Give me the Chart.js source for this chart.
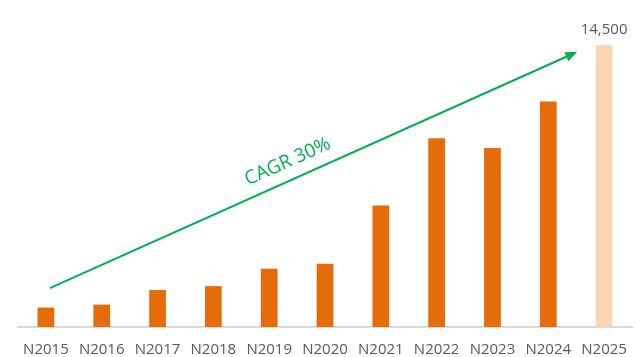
<!DOCTYPE html>
<html>
<head>
<meta charset="utf-8">
<script src="https://cdn.jsdelivr.net/npm/chart.js@4"></script>
<style>
  html, body { margin: 0; padding: 0; background: #fff; }
  #wrap { width: 635px; height: 357px; }
</style>
</head>
<body>
<div id="wrap"><canvas id="chart"></canvas></div>
<script>
// Data
const years = ['N2015', 'N2016', 'N2017', 'N2018', 'N2019', 'N2020', 'N2021', 'N2022', 'N2023', 'N2024', 'N2025'];
const values = [1000, 1150, 1900, 2100, 3000, 3250, 6250, 9700, 9200, 11600, 14500];
const barColors = ['#E46C0A', '#E46C0A', '#E46C0A', '#E46C0A', '#E46C0A', '#E46C0A', '#E46C0A', '#E46C0A', '#E46C0A', '#E46C0A', '#FCD5B5'];
const topLabel = '14,500';
const cagrText = 'CAGR 30%';
// arrow ends, in category index / value units
const arrowFrom = { x: 0.07, y: 2000 };
const arrowTo = { x: 9.52, y: 14150 };

// Label over the last bar + CAGR arrow
const overlay = {
    id: 'overlay',
    afterDatasetsDraw(chart) {
        const ctx = chart.ctx;
        const xs = chart.scales.x, ys = chart.scales.y;

        const bar = chart.getDatasetMeta(0).data[values.length - 1];
        ctx.save();
        ctx.font = '15px "Open Sans"';
        ctx.fillStyle = '#595959';
        ctx.textAlign = 'center';
        ctx.textBaseline = 'bottom';
        ctx.fillText(topLabel, bar.x, bar.y - 8);

        const x1 = xs.getPixelForValue(arrowFrom.x), y1 = ys.getPixelForValue(arrowFrom.y);
        const x2 = xs.getPixelForValue(arrowTo.x), y2 = ys.getPixelForValue(arrowTo.y);
        const ang = Math.atan2(y2 - y1, x2 - x1);
        const head = 12;

        ctx.strokeStyle = '#00B050';
        ctx.fillStyle = '#00B050';
        ctx.lineWidth = 2;
        ctx.beginPath();
        ctx.moveTo(x1, y1);
        ctx.lineTo(x2 - head * 0.8 * Math.cos(ang), y2 - head * 0.8 * Math.sin(ang));
        ctx.stroke();

        ctx.beginPath();
        ctx.moveTo(x2, y2);
        ctx.lineTo(x2 - head * Math.cos(ang) + 5 * Math.sin(ang), y2 - head * Math.sin(ang) - 5 * Math.cos(ang));
        ctx.lineTo(x2 - head * Math.cos(ang) - 5 * Math.sin(ang), y2 - head * Math.sin(ang) + 5 * Math.cos(ang));
        ctx.closePath();
        ctx.fill();

        // text sits above the line
        const t = 0.465;
        const mx = x1 + (x2 - x1) * t, my = y1 + (y2 - y1) * t;
        ctx.translate(mx + 18 * Math.sin(ang), my - 18 * Math.cos(ang));
        ctx.rotate(ang);
        ctx.font = '19px "Open Sans"';
        ctx.textBaseline = 'middle';
        ctx.fillText(cagrText, 0, 0);
        ctx.restore();
    }
};

new Chart(document.getElementById('chart'), {
    type: 'bar',
    data: {
        labels: years,
        datasets: [{
            data: values,
            backgroundColor: barColors,
            categoryPercentage: 1,
            barPercentage: 0.3
        }]
    },
    options: {
        responsive: true,
        maintainAspectRatio: false,
        animation: false,
        layout: { padding: { top: 45, left: 18, right: 3, bottom: 0 } },
        plugins: {
            legend: { display: false },
            tooltip: { enabled: false }
        },
        scales: {
            x: {
                grid: { display: false, drawTicks: false },
                border: { display: true, color: '#D9D9D9', width: 2 },
                ticks: {
                    color: '#595959',
                    padding: 14,
                    maxRotation: 0,
                    autoSkip: false,
                    font: { family: '"Open Sans"', size: 15 }
                },
                afterFit(scale) {
                    scale.height = 30;
                    scale.paddingLeft = 0;
                    scale.paddingRight = 0;
                }
            },
            y: {
                display: false,
                min: 0,
                max: 14500
            }
        }
    },
    plugins: [overlay]
});
</script>
</body>
</html>
